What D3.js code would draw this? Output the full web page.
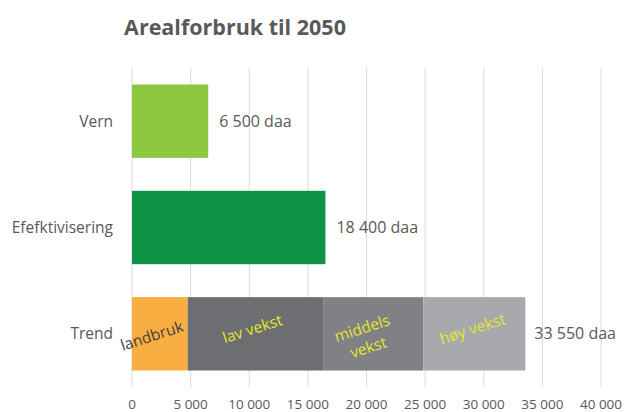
<!DOCTYPE html>
<html>
<head>
<meta charset="utf-8">
<script src="https://cdn.jsdelivr.net/npm/d3@7"></script>
<style>
  body { margin: 0; background: #fff; }
  svg text { font-family: "Open Sans", "Liberation Sans", sans-serif; }
</style>
</head>
<body>
<div id="chart"></div>
<script>
const categories = ['Vern', 'Efefktivisering', 'Trend'];
const singleValues = [6500, 16500];
const singleLabels = ['6 500 daa', '18 400 daa'];
const trendParts = ['landbruk', 'lav vekst', 'middels vekst', 'høy vekst'];
const trendValues = [4750, 11550, 8550, 8700];
const trendLabel = '33 550 daa';
const tickValues = [0, 5000, 10000, 15000, 20000, 25000, 30000, 35000, 40000];

const width = 628;
const height = 412;
const margin = { top: 68, right: 27, bottom: 25, left: 132 };

const singleColors = ['#8dc63f', '#0e9345'];
const trendColors = ['#f8ae40', '#6d6e71', '#808184', '#a7a9ac'];
const trendTextColors = ['#404040', '#e6e62c', '#e6e62c', '#e6e62c'];

const svg = d3.select('#chart').append('svg').attr('width', width).attr('height', height);

const x = d3.scaleLinear().domain([0, 40000]).range([margin.left, 601]);
const y = d3.scaleBand().domain(categories).range([margin.top, height - margin.bottom]).paddingInner(0.31).paddingOuter(0.155);

const fmt = (v) => d3.format(',')(v).replace(/,/g, ' ');

svg.append('text')
  .attr('x', 235)
  .attr('y', 35)
  .attr('text-anchor', 'middle')
  .attr('font-size', 21.5)
  .attr('font-weight', 'bold')
  .attr('fill', '#595959')
  .text('Arealforbruk til 2050');

// gridlines
svg.append('g')
  .selectAll('line')
  .data(tickValues)
  .join('line')
  .attr('x1', (d) => x(d))
  .attr('x2', (d) => x(d))
  .attr('y1', margin.top)
  .attr('y2', height - margin.bottom)
  .attr('stroke', '#d9d9d9')
  .attr('stroke-width', 1);

// x tick labels
svg.append('g')
  .selectAll('text')
  .data(tickValues)
  .join('text')
  .attr('x', (d) => x(d))
  .attr('y', 409)
  .attr('text-anchor', 'middle')
  .attr('font-size', 13.5)
  .attr('fill', '#595959')
  .text((d) => fmt(d));

// category labels
svg.append('g')
  .selectAll('text')
  .data(categories)
  .join('text')
  .attr('x', 113)
  .attr('y', (d) => y(d) + y.bandwidth() / 2)
  .attr('dy', '0.35em')
  .attr('text-anchor', 'end')
  .attr('font-size', 15.5)
  .attr('fill', '#595959')
  .text((d) => d);

// single bars
singleValues.forEach((v, i) => {
  const cat = categories[i];
  svg.append('rect')
    .attr('x', x(0))
    .attr('y', y(cat))
    .attr('width', x(v) - x(0))
    .attr('height', y.bandwidth())
    .attr('fill', singleColors[i]);
  svg.append('text')
    .attr('x', x(v) + 11)
    .attr('y', y(cat) + y.bandwidth() / 2)
    .attr('dy', '0.35em')
    .attr('font-size', 16)
    .attr('fill', '#595959')
    .text(singleLabels[i]);
});

// stacked trend bar
const trendCat = categories[2];
let acc = 0;
const stacked = trendValues.map((v, i) => {
  const s = { name: trendParts[i], x0: acc, x1: acc + v, i };
  acc += v;
  return s;
});

svg.append('g')
  .selectAll('rect')
  .data(stacked)
  .join('rect')
  .attr('x', (d) => x(d.x0))
  .attr('y', y(trendCat))
  .attr('width', (d) => x(d.x1) - x(d.x0))
  .attr('height', y.bandwidth())
  .attr('fill', (d) => trendColors[d.i]);

const labelOffsets = [[-8, 2], [-3, -5], [-8, 4], [-2, -5]];
stacked.forEach((d) => {
  const cx = (x(d.x0) + x(d.x1)) / 2 + labelOffsets[d.i][0];
  const cy = y(trendCat) + y.bandwidth() / 2 + labelOffsets[d.i][1];
  const words = d.name === 'middels vekst' ? ['middels', 'vekst'] : [d.name];
  const t = svg.append('text')
    .attr('transform', `translate(${cx},${cy}) rotate(-18)`)
    .attr('text-anchor', 'middle')
    .attr('font-size', 15.5)
    .attr('fill', trendTextColors[d.i]);
  words.forEach((w, k) => {
    t.append('tspan')
      .attr('x', 0)
      .attr('y', (k - (words.length - 1) / 2) * 20)
      .attr('dy', '0.35em')
      .text(w);
  });
});

svg.append('text')
  .attr('x', x(acc) + 9)
  .attr('y', y(trendCat) + y.bandwidth() / 2)
  .attr('dy', '0.35em')
  .attr('font-size', 16)
  .attr('fill', '#595959')
  .text(trendLabel);
</script>
</body>
</html>
